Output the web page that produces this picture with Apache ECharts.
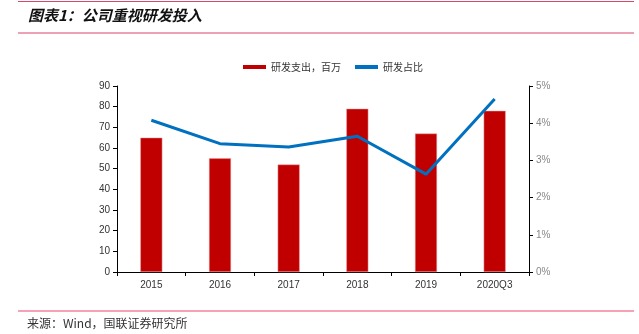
<!DOCTYPE html>
<html>
<head>
<meta charset="utf-8">
<script src="https://cdn.jsdelivr.net/npm/echarts@6/dist/echarts.min.js"></script>
<style>
  html, body { margin: 0; padding: 0; background: #fff; }
  #chart { width: 639px; height: 334px; }
</style>
</head>
<body>
<div id="chart"></div>
<script>
// R&D spending (million CNY) and R&D share of revenue (%)
const categories = ['2015', '2016', '2017', '2018', '2019', '2020Q3'];
const rdSpend = [65, 55, 52, 79, 67, 78];
const rdRatio = [4.08, 3.45, 3.36, 3.65, 2.63, 4.65];
const leftTicks = { min: 0, max: 90, interval: 10 };
const rightTicks = { min: 0, max: 5, interval: 1 };

const chart = echarts.init(document.getElementById('chart'));
const cjk = '"Noto Sans CJK SC", sans-serif';
const latin = 'Arial, "Liberation Sans", sans-serif';

chart.setOption({
  animation: false,
  backgroundColor: '#fff',
  grid: { left: 117, right: 110, top: 86, bottom: 62 },
  legend: {
    top: 57,
    left: 238,
    itemGap: 14,
    itemWidth: 23,
    itemHeight: 4,
    textStyle: { fontFamily: cjk, fontSize: 10, color: '#333' },
    data: [
      { name: '研发支出，百万', icon: 'rect', itemStyle: { borderWidth: 0 } },
      { name: '研发占比', icon: 'rect' }
    ]
  },
  xAxis: {
    type: 'category',
    data: categories,
    axisLine: { lineStyle: { color: '#000', width: 1 } },
    axisTick: { show: true, alignWithLabel: false, length: 4, lineStyle: { color: '#000' } },
    axisLabel: { fontFamily: latin, fontSize: 10, color: '#333', margin: 8 }
  },
  yAxis: [
    {
      type: 'value',
      min: leftTicks.min, max: leftTicks.max, interval: leftTicks.interval,
      splitLine: { show: false },
      axisLine: { show: true, lineStyle: { color: '#000' } },
      axisTick: { show: true, length: 4, lineStyle: { color: '#000' } },
      axisLabel: { fontFamily: latin, fontSize: 10, color: '#333', margin: 7 }
    },
    {
      type: 'value',
      min: rightTicks.min, max: rightTicks.max, interval: rightTicks.interval,
      splitLine: { show: false },
      axisLine: { show: true, lineStyle: { color: '#000' } },
      axisTick: { show: true, length: 4, lineStyle: { color: '#000' } },
      axisLabel: { fontFamily: latin, fontSize: 10, color: '#888', margin: 7, formatter: '{value}%' }
    }
  ],
  series: [
    {
      name: '研发支出，百万',
      type: 'bar',
      data: rdSpend,
      barWidth: 22,
      itemStyle: { color: '#C00000', borderColor: '#E8A0A0', borderWidth: 0.5 }
    },
    {
      name: '研发占比',
      type: 'line',
      yAxisIndex: 1,
      data: rdRatio,
      symbol: 'none',
      lineStyle: { color: '#0070C0', width: 3 },
      itemStyle: { color: '#0070C0' }
    }
  ],
  graphic: [
    { type: 'line', shape: { x1: 18, y1: 1.5, x2: 634, y2: 1.5 }, style: { stroke: '#D9476A', lineWidth: 1.2 } },
    { type: 'line', shape: { x1: 18, y1: 33, x2: 634, y2: 33 }, style: { stroke: '#D9476A', lineWidth: 1.2 } },
    { type: 'line', shape: { x1: 18, y1: 311, x2: 634, y2: 311 }, style: { stroke: '#F0476A', lineWidth: 1.2 } },
    {
      type: 'text', left: 28, top: 8,
      style: { text: '图表1：公司重视研发投入', font: 'italic bold 15px "Noto Sans CJK SC", sans-serif', fill: '#111' }
    },
    {
      type: 'text', left: 27, top: 317,
      style: { text: '来源：Wind，国联证券研究所', font: '12px "Noto Sans CJK SC", sans-serif', fill: '#333' }
    }
  ]
});
</script>
</body>
</html>
